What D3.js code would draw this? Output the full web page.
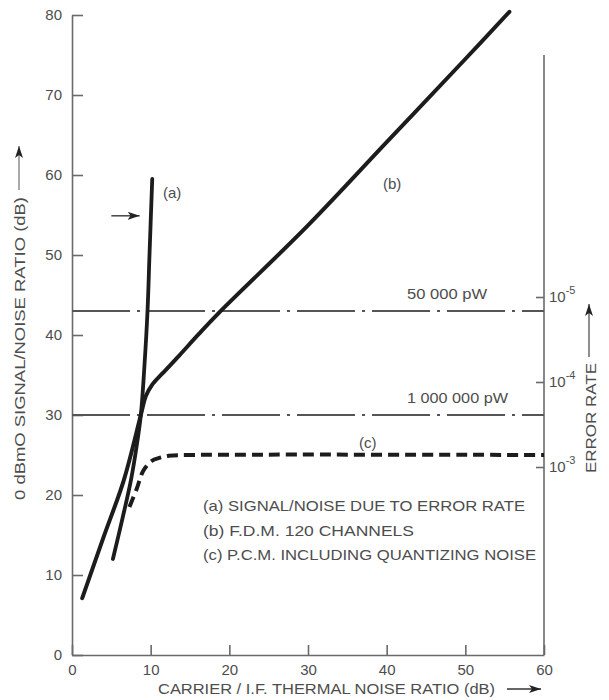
<!DOCTYPE html>
<html>
<head>
<meta charset="utf-8">
<script src="https://cdn.jsdelivr.net/npm/d3@7"></script>
<style>
  body { margin: 0; background: #fff; }
  text { font-family: "Liberation Sans", Arial, sans-serif; fill: #4d4d4d; }
</style>
</head>
<body>
<svg width="609" height="700"></svg>
<script>
// values
const xTicks = [0, 10, 20, 30, 40, 50, 60];
const yTicks = [0, 10, 20, 30, 40, 50, 60, 70, 80];
const errorTicks = [1e-5, 1e-4, 1e-3];
const errorExps = ["-5", "-4", "-3"];

// (a) signal/noise due to error rate
const curveAx = [5.2, 6.4, 7.5, 8.2, 8.75, 9.2, 9.6, 9.85, 10.2];
const curveAy = [12, 17, 21.9, 26, 30, 36, 43, 50, 59.5];
// (b) F.D.M. 120 channels
const curveBx = [1.3, 4, 6.6, 8.75, 9.4, 10.2, 11.5, 13.6, 16.1, 18.7, 30, 40, 50, 55.6];
const curveBy = [7.1, 14.7, 21.9, 30, 32.4, 33.8, 35.2, 37.4, 40.1, 42.8, 53.7, 64.1, 74.5, 80.4];
// (c) P.C.M. including quantizing noise
const curveCx = [7.3, 8.2, 9.1, 10.2, 11, 12.3, 15, 60];
const curveCy = [18.5, 20.7, 23.1, 24.3, 24.6, 24.9, 25, 25];

// reference levels (dash-dot)
const refLevels = [43, 30];
const refLabels = ["50 000 pW", "1 000 000 pW"];

const legendLines = [
  "(a)  SIGNAL/NOISE DUE TO ERROR RATE",
  "(b)  F.D.M. 120 CHANNELS",
  "(c)  P.C.M. INCLUDING QUANTIZING NOISE"
];
const legendWidths = [322, 211, 333];

const svg = d3.select("svg");

const xScale = d3.scaleLinear().domain([0, 60]).range([72, 544]);
const yScale = d3.scaleLinear().domain([0, 80]).range([655, 15]);
const errScale = d3.scaleLog().domain([1e-3, 1e-5]).range([467, 297]);

// arrow head
svg.append("defs").append("marker")
  .attr("id", "arr").attr("viewBox", "0 0 12 8").attr("refX", 12).attr("refY", 4)
  .attr("markerWidth", 12).attr("markerHeight", 8).attr("markerUnits", "userSpaceOnUse")
  .attr("orient", "auto")
  .append("path").attr("d", "M0,0 L12,4 L0,8 L3,4 Z").attr("fill", "#222");

// axes
const xAxis = svg.append("g").attr("transform", "translate(0," + yScale(0) + ")")
  .call(d3.axisBottom(xScale).tickValues(xTicks).tickSize(-10).tickSizeOuter(0).tickPadding(9));
const yAxis = svg.append("g").attr("transform", "translate(" + xScale(0) + ",0)")
  .call(d3.axisLeft(yScale).tickValues(yTicks).tickSize(-11).tickSizeOuter(0).tickPadding(10));
const errAxis = svg.append("g").attr("transform", "translate(" + xScale(60) + ",0)")
  .call(d3.axisRight(errScale).tickValues(errorTicks).tickSize(-8).tickPadding(5).tickFormat(""));

[xAxis, yAxis, errAxis].forEach(g => {
  g.selectAll("path, line").attr("stroke", "#6a6a6a").attr("stroke-width", 1.6);
  g.selectAll("text").attr("font-size", "15px").attr("fill", "#555")
    .attr("font-family", "Liberation Sans, Arial, sans-serif");
});
errAxis.select(".domain").remove();

// right axis line
svg.append("line")
  .attr("x1", xScale(60)).attr("x2", xScale(60))
  .attr("y1", yScale(0)).attr("y2", yScale(75))
  .attr("stroke", "#6a6a6a").attr("stroke-width", 1.6);

errAxis.selectAll(".tick text").each(function (d, i) {
  const t = d3.select(this);
  t.append("tspan").text("10");
  t.append("tspan").attr("dy", "-0.75em").attr("font-size", "11px").text(errorExps[i]);
});

// dash-dot reference lines
refLevels.forEach((v, i) => {
  svg.append("line")
    .attr("x1", xScale(0)).attr("x2", xScale(60))
    .attr("y1", yScale(v)).attr("y2", yScale(v))
    .attr("stroke", "#555").attr("stroke-width", 2)
    .attr("stroke-dasharray", "58,7,3,7");
  svg.append("text")
    .attr("x", 407).attr("y", yScale(v) - 12)
    .attr("font-size", "15px")
    .attr("textLength", i === 0 ? 80 : 101).attr("lengthAdjust", "spacingAndGlyphs")
    .text(refLabels[i]);
});

// curves
const line = d3.line().x(d => xScale(d[0])).y(d => yScale(d[1])).curve(d3.curveCatmullRom.alpha(0.5));

svg.append("path").datum(d3.zip(curveBx, curveBy))
  .attr("d", line).attr("fill", "none").attr("stroke", "#1c1c1c")
  .attr("stroke-width", 4).attr("stroke-linecap", "round");

svg.append("path").datum(d3.zip(curveAx, curveAy))
  .attr("d", line).attr("fill", "none").attr("stroke", "#1c1c1c")
  .attr("stroke-width", 3.8).attr("stroke-linecap", "round");

svg.append("path").datum(d3.zip(curveCx, curveCy))
  .attr("d", line).attr("fill", "none").attr("stroke", "#1c1c1c")
  .attr("stroke-width", 4).attr("stroke-dasharray", "11,6");

// curve labels
svg.append("text").attr("x", 163).attr("y", 198).attr("font-size", "15px").text("(a)");
svg.append("text").attr("x", 383).attr("y", 189).attr("font-size", "15px").text("(b)");
svg.append("text").attr("x", 359).attr("y", 448).attr("font-size", "15px").text("(c)");

// small arrow pointing at (a)
svg.append("line")
  .attr("x1", xScale(5)).attr("x2", xScale(8.6))
  .attr("y1", yScale(54.9)).attr("y2", yScale(54.9))
  .attr("stroke", "#444").attr("stroke-width", 1.5).attr("marker-end", "url(#arr)");

// legend
legendLines.forEach((s, i) => {
  svg.append("text")
    .attr("x", 203).attr("y", 511 + i * 24.5)
    .attr("font-size", "15px")
    .attr("textLength", legendWidths[i]).attr("lengthAdjust", "spacingAndGlyphs")
    .text(s);
});

// axis titles
svg.append("text").attr("x", 158).attr("y", 694).attr("font-size", "15px")
  .attr("textLength", 337).attr("lengthAdjust", "spacingAndGlyphs")
  .text("CARRIER / I.F. THERMAL NOISE RATIO (dB)");
svg.append("line").attr("x1", 507).attr("x2", 541).attr("y1", 689).attr("y2", 689)
  .attr("stroke", "#333").attr("stroke-width", 1.5).attr("marker-end", "url(#arr)");

svg.append("text").attr("transform", "translate(25,500) rotate(-90)").attr("font-size", "15px")
  .attr("fill", "#555")
  .attr("textLength", 303).attr("lengthAdjust", "spacingAndGlyphs")
  .text("0 dBmO SIGNAL/NOISE RATIO (dB)");
svg.append("line").attr("x1", 19).attr("x2", 19).attr("y1", 190).attr("y2", 146)
  .attr("stroke", "#555").attr("stroke-width", 1).attr("marker-end", "url(#arr)");

svg.append("text").attr("transform", "translate(596,473) rotate(-90)").attr("font-size", "15px")
  .attr("fill", "#555")
  .attr("textLength", 110).attr("lengthAdjust", "spacingAndGlyphs")
  .text("ERROR RATE");
svg.append("line").attr("x1", 589).attr("x2", 589).attr("y1", 357).attr("y2", 304)
  .attr("stroke", "#444").attr("stroke-width", 1.2).attr("marker-end", "url(#arr)");
</script>
</body>
</html>
